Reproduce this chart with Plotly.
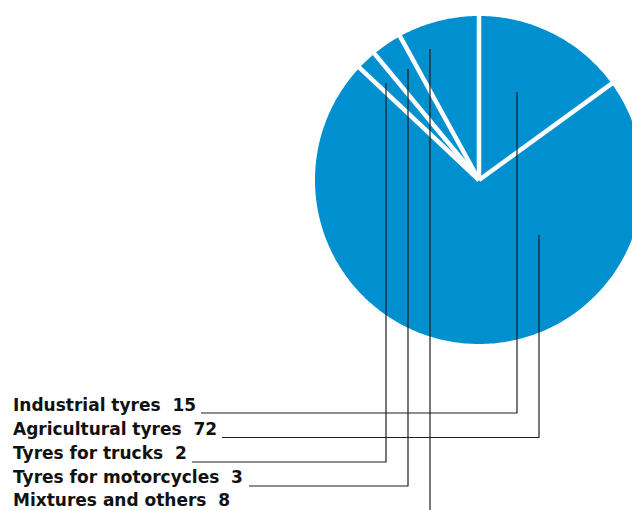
import numpy as np
import plotly.graph_objects as go

# ---- data ----
categories = ["Industrial tyres", "Agricultural tyres", "Tyres for trucks",
              "Tyres for motorcycles", "Mixtures and others"]
values = [15, 72, 2, 3, 8]

# ---- layout / style (pixel space) ----
W, H = 632, 510
CX, CY, R = 479, 180, 164
PIE_COLOR = "#0090d0"
LINE_COLOR = "#1e1e1e"
label_x = 12
label_y = [405, 429, 453, 477, 500]
line_y = [413, 437.5, 462, 486, None]
line_x0 = [201, 222, 192, 249, None]
anchor_x = [517, 539, 386, 408, 430]
anchor_y = [92, 235, 83, 69, 49]

fig = go.Figure()

total = sum(values)
cum = np.concatenate([[0], np.cumsum(values)]) / total * 2 * np.pi
for i, v in enumerate(values):
    th = np.linspace(cum[i], cum[i + 1], max(8, int(v * 4)))
    xs = np.concatenate([[CX], CX + R * np.sin(th), [CX]])
    ys = np.concatenate([[CY], CY - R * np.cos(th), [CY]])
    fig.add_trace(go.Scatter(x=xs, y=ys, fill="toself", fillcolor=PIE_COLOR,
                             mode="none", hoverinfo="skip", showlegend=False))

# white separators
sx, sy = [], []
for a in cum[:-1]:
    sx += [CX, CX + (R + 3) * np.sin(a), None]
    sy += [CY, CY - (R + 3) * np.cos(a), None]
fig.add_trace(go.Scatter(x=sx, y=sy, mode="lines", line=dict(color="white", width=4.5),
                         hoverinfo="skip", showlegend=False))

# leader lines
for i in range(len(categories)):
    if line_y[i] is not None:
        xs = [line_x0[i], anchor_x[i], anchor_x[i]]
        ys = [line_y[i], line_y[i], anchor_y[i]]
    else:
        xs = [anchor_x[i], anchor_x[i]]
        ys = [H, anchor_y[i]]
    fig.add_trace(go.Scatter(x=xs, y=ys, mode="lines",
                             line=dict(color=LINE_COLOR, width=1.2),
                             hoverinfo="skip", showlegend=False))

# labels
for i, (c, v) in enumerate(zip(categories, values)):
    fig.add_annotation(x=label_x, y=label_y[i], xref="x", yref="y",
                       text=f"<b>{c}&nbsp;&nbsp;{v}</b>", showarrow=False,
                       xanchor="left", yanchor="middle", borderpad=0,
                       font=dict(family="DejaVu Sans, sans-serif", size=17, color="#111"))

fig.update_layout(
    width=W, height=H, margin=dict(l=0, r=0, t=0, b=0),
    paper_bgcolor="white", plot_bgcolor="white",
    xaxis=dict(range=[0, W], visible=False, fixedrange=True),
    yaxis=dict(range=[H, 0], visible=False, fixedrange=True),
    showlegend=False,
)
fig.write_html("out.html", config={"displayModeBar": False},
               post_script="document.body.style.margin='0';document.body.style.overflow='hidden';")
